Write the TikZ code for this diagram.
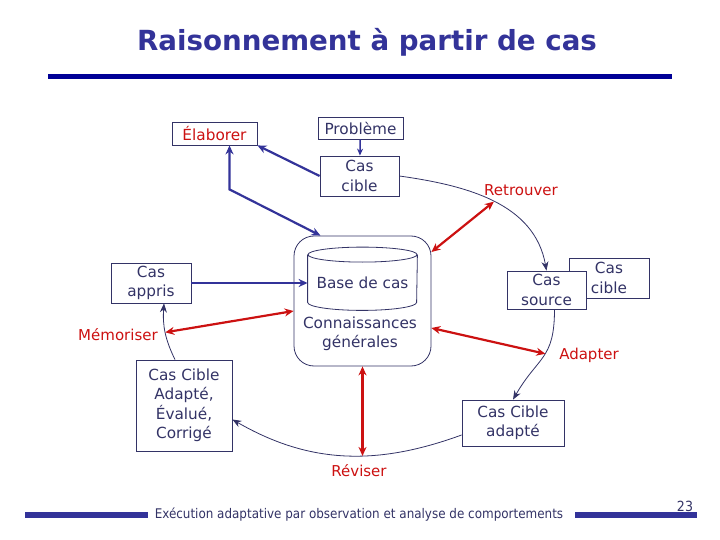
\documentclass[tikz,border=0pt]{standalone}
\usepackage{fontspec}
\setmainfont{DejaVu Sans}
\newfontfamily\condfont{DejaVu Sans Condensed}
\usetikzlibrary{arrows.meta}
\definecolor{boxblue}{RGB}{51,51,102}
\definecolor{arrowblue}{RGB}{51,51,153}
\definecolor{rulenavy}{RGB}{0,0,150}
\definecolor{stepred}{RGB}{204,17,17}
\tikzstyle{box}=[%
  draw=boxblue,
  line width=0.8pt,
  fill=white,
  text=boxblue,
  align=center,
  inner sep=2pt,
  font=\fontsize{15.3}{19.5}\selectfont
]
\tikzstyle{steplabel}=[text=stepred, font=\fontsize{15}{19}\selectfont]
\tikzstyle{flow}=[arrowblue, line width=2.2pt, -{Stealth[length=9pt,width=8pt]}]
\tikzstyle{flowboth}=[arrowblue, line width=2.2pt, {Stealth[length=9pt,width=8pt]}-{Stealth[length=9pt,width=8pt]}]
\tikzstyle{loopline}=[boxblue, line width=0.8pt, -{Stealth[length=9pt,width=7pt]}]
\tikzstyle{link}=[stepred, line width=2.2pt, {Stealth[length=9pt,width=8pt]}-{Stealth[length=9pt,width=8pt]}]

\begin{document}
\begin{tikzpicture}[x=1pt,y=1pt]
      \useasboundingbox (0,0) rectangle (720,-540);
      \node[text=arrowblue, font=\fontsize{27.7}{32}\selectfont\bfseries] (title) at (367,-42) {Raisonnement à partir de cas};
      \fill[rulenavy] (48,-74) rectangle (672,-79);
      \node[box, minimum width=137pt, minimum height=130pt, rounded corners=20pt] (kb) at (362.5,-301) {};
      \node[box, draw=none, fill=none, minimum width=109pt, minimum height=47pt] (base) at (362.5,-278.5) {};
      \node[box, draw=none, fill=none] (basetext) at (362.5,-283) {Base de cas};
      \draw[boxblue, line width=0.8pt] (base.north) ellipse (54.5 and 7.5)
        (base.north west) -- (base.south west) arc (180:360:54.5 and 8) -- (base.north east);
      \node[box, draw=none, fill=none] (gen) at (360,-334) {Connaissances\\générales};
      \node[box, minimum width=85pt, minimum height=23pt, text=stepred] (elab) at (214.5,-133.5) {Élaborer};
      \node[box, minimum width=85pt, minimum height=22pt] (prob) at (360.5,-128) {Problème};
      \node[box, minimum width=79pt, minimum height=40pt] (cible) at (359.5,-176) {Cas\\cible};
      \node[box, minimum width=80pt, minimum height=40pt] (appris) at (151,-283) {Cas\\appris};
      \node[box, minimum width=96pt, minimum height=91pt] (evalue) at (184,-405.5) {Cas Cible\\Adapté,\\Évalué,\\Corrigé};
      \node[box, minimum width=80pt, minimum height=40pt] (cible2) at (609,-278) {Cas\\cible};
      \node[box, minimum width=79pt, minimum height=38pt] (source) at (546.5,-290) {Cas\\source};
      \node[box, minimum width=102pt, minimum height=46pt] (adapte) at (513,-423) {Cas Cible\\adapté};
      \draw[flow, line width=1.5pt, -{Stealth[length=7pt,width=6pt]}] (prob) -- (cible);
      \draw[flow] (cible.west) -- (elab.south east);
      \draw[flowboth] ([xshift=15pt]elab.south) -- ++(0,-44) -- ([xshift=-42pt]kb.north);
      \draw[flow] (appris.east) -- (appris.east -| base.west);
      \draw[loopline] (cible.east) to[out=-8, in=100] coordinate[pos=0.5] (rtr) (source.north);
      \draw[loopline] ([xshift=8pt]source.south) to[out=-90, in=60, looseness=1.3] coordinate[pos=0.45] (adp) (adapte.north);
      \draw[loopline] ([yshift=-12pt]adapte.west) to[out=200, in=-30] coordinate[pos=0.44] (rev) ([yshift=-14pt]evalue.east);
      \draw[loopline] ([xshift=-9pt]evalue.north) to[bend left=15] coordinate[pos=0.5] (mem) ([xshift=13pt]appris.south);
      \foreach \name/\x/\y/\word in {memo/118/-335/Mémoriser, retr/521/-190/Retrouver, adap/589/-355/Adapter, revi/359/-471/Réviser} {%
        \node[steplabel] (\name) at (\x,\y) {\word};
      }
      \draw[link] (mem) -- ([yshift=-10pt]kb.west);
      \draw[link] (rtr) -- ([yshift=49pt]kb.east);
      \draw[link] (adp) -- ([yshift=-27pt]kb.east);
      \draw[link] (kb.south) -- (kb.south |- rev);
      \fill[arrowblue] (25,-512) rectangle (148,-518);
      \fill[arrowblue] (575,-512) rectangle (697,-518);
      \node[text=boxblue, font=\condfont\fontsize{13.3}{15}\selectfont] (foot) at (359,-515) {Exécution adaptative par observation et analyse de comportements};
      \node[text=boxblue, font=\condfont\fontsize{14}{16}\selectfont] (page) at (685,-506) {23};
    \end{tikzpicture}
\end{document}
